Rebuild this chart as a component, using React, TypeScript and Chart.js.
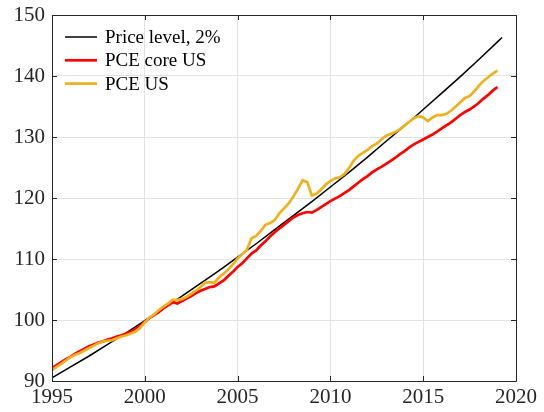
import React, { useEffect, useRef } from "react";
import { Chart, registerables } from "chart.js";

Chart.register(...registerables);

const START_YEAR = 1995;
const QUARTER = 0.25;

const pceCoreUS = [
  92.1, 92.6, 93.1, 93.6, 94.0, 94.5, 94.9, 95.3, 95.7, 96.0, 96.3, 96.5,
  96.8, 97.0, 97.3, 97.5, 97.8, 98.1, 98.5, 99.0, 99.7, 100.3, 100.8, 101.3,
  101.9, 102.4, 102.9, 102.7, 103.1, 103.5, 103.9, 104.4, 104.8, 105.1, 105.4, 105.5,
  106.0, 106.5, 107.2, 107.9, 108.7, 109.3, 110.1, 110.9, 111.4, 112.2, 112.9, 113.7,
  114.4, 115.0, 115.6, 116.2, 116.8, 117.2, 117.5, 117.7, 117.6, 118.0, 118.5, 119.0,
  119.5, 119.9, 120.3, 120.8, 121.3, 121.9, 122.5, 123.1, 123.6, 124.2, 124.7, 125.1,
  125.6, 126.1, 126.6, 127.2, 127.7, 128.3, 128.8, 129.2, 129.6, 130.0, 130.4, 130.9,
  131.4, 131.9, 132.4, 133.0, 133.6, 134.1, 134.5, 135.0, 135.6, 136.3, 136.9, 137.6,
  138.2,
];

const pceUS = [
  91.8, 92.3, 92.8, 93.4, 93.9, 94.3, 94.6, 95.0, 95.4, 95.8, 96.2, 96.5,
  96.6, 96.7, 97.0, 97.3, 97.5, 97.8, 98.1, 98.7, 99.6, 100.4, 100.9, 101.6,
  102.2, 102.7, 103.3, 103.3, 103.4, 103.8, 104.3, 104.8, 105.4, 106.1, 106.2, 106.1,
  107.0, 107.6, 108.3, 109.1, 110.1, 110.8, 111.5, 113.4, 113.8, 114.6, 115.6, 115.9,
  116.4, 117.5, 118.3, 119.1, 120.2, 121.5, 122.9, 122.6, 120.4, 120.7, 121.4, 122.2,
  122.8, 123.2, 123.4, 123.9, 124.9, 126.1, 126.9, 127.4, 127.9, 128.5, 128.9, 129.6,
  130.2, 130.5, 130.8, 131.3, 131.9, 132.5, 133.1, 133.4, 133.2, 132.6, 133.2, 133.6,
  133.6, 133.8, 134.3, 135.0, 135.7, 136.4, 136.7, 137.5, 138.4, 139.2, 139.8, 140.4,
  140.9,
];

const priceLevelYears = [
  1995, 1996, 1997, 1998, 1999, 2000, 2001, 2002, 2003, 2004, 2005, 2006, 2007,
  2008, 2009, 2010, 2011, 2012, 2013, 2014, 2015, 2016, 2017, 2018, 2019, 2019.25,
];
const priceLevel2 = [
  90.5, 92.3, 94.1, 96.0, 97.9, 99.9, 101.9, 103.9, 106.0, 108.1, 110.3, 112.5, 114.8,
  117.1, 119.4, 121.8, 124.2, 126.7, 129.3, 131.8, 134.5, 137.2, 139.9, 142.7, 145.6, 146.3,
];

const xTicks = [1995, 2000, 2005, 2010, 2015, 2020];
const yTicks = [90, 100, 110, 120, 130, 140, 150];

const labels = ["Price level, 2%", "PCE core US", "PCE US"];
const colors = ["#000000", "#FF0000", "#EDB120"];
const widths = [1.5, 2.7, 2.7];

const AXIS_COLOR = "#262626";
const FONT = "'Liberation Serif', 'Times New Roman', serif";

const quarterly = (vals: number[]) =>
  vals.map((v, i) => ({ x: START_YEAR + i * QUARTER, y: v }));

const boxPlugin = {
  id: "boxTicks",
  afterDraw(chart: any) {
    const { ctx, chartArea, scales } = chart;
    const { left, right, top, bottom } = chartArea;
    ctx.save();
    ctx.strokeStyle = AXIS_COLOR;
    ctx.lineWidth = 1;
    ctx.beginPath();
    ctx.rect(Math.round(left) + 0.5, Math.round(top) + 0.5, Math.round(right - left), Math.round(bottom - top));
    ctx.stroke();
    const tl = 5;
    ctx.beginPath();
    xTicks.forEach((v) => {
      const px = Math.round(scales.x.getPixelForValue(v)) + 0.5;
      ctx.moveTo(px, bottom);
      ctx.lineTo(px, bottom - tl);
      ctx.moveTo(px, top);
      ctx.lineTo(px, top + tl);
    });
    yTicks.forEach((v) => {
      const py = Math.round(scales.y.getPixelForValue(v)) + 0.5;
      ctx.moveTo(left, py);
      ctx.lineTo(left + tl, py);
      ctx.moveTo(right, py);
      ctx.lineTo(right - tl, py);
    });
    ctx.stroke();

    // legend inside the axes
    ctx.font = `19px ${FONT}`;
    ctx.textBaseline = "middle";
    ctx.textAlign = "left";
    chart.data.datasets.forEach((ds: any, i: number) => {
      const y = top + 22 + i * 23.3;
      const x0 = left + 13;
      ctx.strokeStyle = ds.borderColor;
      ctx.lineWidth = ds.borderWidth;
      ctx.beginPath();
      ctx.moveTo(x0, y);
      ctx.lineTo(x0 + 32, y);
      ctx.stroke();
      ctx.fillStyle = "#000000";
      ctx.fillText(ds.label, x0 + 40, y + 1);
    });
    ctx.restore();
  },
};

export default function App() {
  const ref = useRef<HTMLCanvasElement | null>(null);

  useEffect(() => {
    document.body.style.margin = "0";
    const canvas = ref.current;
    if (!canvas) return;
    const series = [
      priceLevelYears.map((x, i) => ({ x, y: priceLevel2[i] })),
      quarterly(pceCoreUS),
      quarterly(pceUS),
    ];
    const chart = new Chart(canvas, {
      type: "line",
      data: {
        datasets: series.map((d, i) => ({
          label: labels[i],
          data: d,
          borderColor: colors[i],
          backgroundColor: colors[i],
          borderWidth: widths[i],
          pointRadius: 0,
          tension: 0,
          fill: false,
          order: 3 - i,
        })),
      },
      options: {
        responsive: false,
        animation: false,
        layout: { padding: { top: 15, right: 28, left: 0, bottom: 0 } },
        plugins: { legend: { display: false }, tooltip: { enabled: false } },
        scales: {
          x: {
            type: "linear",
            min: 1995,
            max: 2020,
            afterBuildTicks: (s: any) => {
              s.ticks = xTicks.map((v) => ({ value: v }));
            },
            afterFit: (s: any) => {
              s.height = 31;
              s.paddingLeft = 0;
              s.paddingRight = 0;
            },
            ticks: {
              callback: (v: any) => String(v),
              font: { family: FONT, size: 21 },
              color: AXIS_COLOR,
              padding: 4,
              maxRotation: 0,
              autoSkip: false,
            },
            grid: { color: "#e3e3e3", drawTicks: false, lineWidth: 1 },
            border: { display: false },
          },
          y: {
            type: "linear",
            min: 90,
            max: 150,
            afterBuildTicks: (s: any) => {
              s.ticks = yTicks.map((v) => ({ value: v }));
            },
            afterFit: (s: any) => {
              s.width = 52;
              s.paddingTop = 0;
              s.paddingBottom = 0;
            },
            ticks: {
              callback: (v: any) => String(v),
              font: { family: FONT, size: 21 },
              color: AXIS_COLOR,
              padding: 7,
            },
            grid: { color: "#e3e3e3", drawTicks: false, lineWidth: 1 },
            border: { display: false },
          },
        },
      },
      plugins: [boxPlugin],
    });
    return () => chart.destroy();
  }, []);

  return (
    <div style={{ width: 544, height: 412 }}>
      <canvas ref={ref} width={544} height={412} />
    </div>
  );
}
